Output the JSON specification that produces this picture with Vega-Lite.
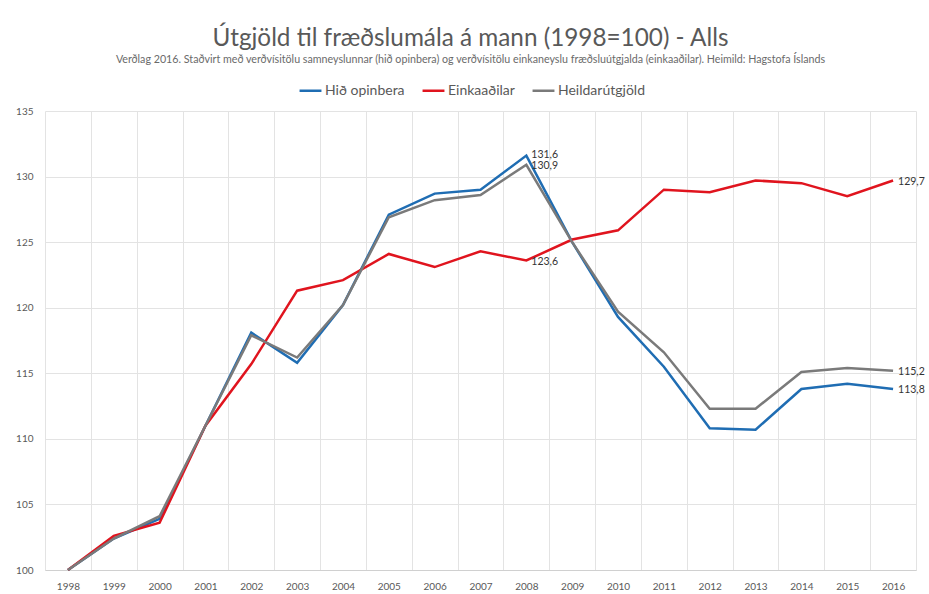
{
  "$schema": "https://vega.github.io/schema/vega-lite/v6.json",
  "width": 871,
  "height": 459,
  "autosize": {"type": "none"},
  "padding": {"left": 45, "top": 111, "right": 13, "bottom": 24},
  "background": "white",
  "config": {
    "font": "Lato",
    "view": {"stroke": null},
    "locale": {"number": {"decimal": ",", "thousands": ".", "grouping": [3], "currency": ["", " kr."]}}
  },
  "title": {
    "text": "Útgjöld til fræðslumála á mann (1998=100) - Alls",
    "subtitle": "Verðlag 2016. Staðvirt með verðvísitölu samneyslunnar (hið opinbera) og verðvísitölu einkaneyslu fræðsluútgjalda (einkaaðilar). Heimild: Hagstofa Íslands",
    "anchor": "middle",
    "dx": -10,
    "fontSize": 24.3,
    "fontWeight": "normal",
    "color": "#595959",
    "subtitleFontSize": 10.7,
    "subtitleColor": "#6a6a6a",
    "subtitlePadding": 4,
    "offset": 13
  },
  "data": {
    "values": [
      {"year": "1998", "series": "Hið opinbera", "value": 100.0},
      {"year": "1999", "series": "Hið opinbera", "value": 102.4},
      {"year": "2000", "series": "Hið opinbera", "value": 103.9},
      {"year": "2001", "series": "Hið opinbera", "value": 111.0},
      {"year": "2002", "series": "Hið opinbera", "value": 118.1},
      {"year": "2003", "series": "Hið opinbera", "value": 115.8},
      {"year": "2004", "series": "Hið opinbera", "value": 120.2},
      {"year": "2005", "series": "Hið opinbera", "value": 127.1},
      {"year": "2006", "series": "Hið opinbera", "value": 128.7},
      {"year": "2007", "series": "Hið opinbera", "value": 129.0},
      {"year": "2008", "series": "Hið opinbera", "value": 131.6},
      {"year": "2009", "series": "Hið opinbera", "value": 125.0},
      {"year": "2010", "series": "Hið opinbera", "value": 119.3},
      {"year": "2011", "series": "Hið opinbera", "value": 115.5},
      {"year": "2012", "series": "Hið opinbera", "value": 110.8},
      {"year": "2013", "series": "Hið opinbera", "value": 110.7},
      {"year": "2014", "series": "Hið opinbera", "value": 113.8},
      {"year": "2015", "series": "Hið opinbera", "value": 114.2},
      {"year": "2016", "series": "Hið opinbera", "value": 113.8},
      {"year": "1998", "series": "Einkaaðilar", "value": 100.0},
      {"year": "1999", "series": "Einkaaðilar", "value": 102.6},
      {"year": "2000", "series": "Einkaaðilar", "value": 103.6},
      {"year": "2001", "series": "Einkaaðilar", "value": 111.0},
      {"year": "2002", "series": "Einkaaðilar", "value": 115.7},
      {"year": "2003", "series": "Einkaaðilar", "value": 121.3},
      {"year": "2004", "series": "Einkaaðilar", "value": 122.1},
      {"year": "2005", "series": "Einkaaðilar", "value": 124.1},
      {"year": "2006", "series": "Einkaaðilar", "value": 123.1},
      {"year": "2007", "series": "Einkaaðilar", "value": 124.3},
      {"year": "2008", "series": "Einkaaðilar", "value": 123.6},
      {"year": "2009", "series": "Einkaaðilar", "value": 125.2},
      {"year": "2010", "series": "Einkaaðilar", "value": 125.9},
      {"year": "2011", "series": "Einkaaðilar", "value": 129.0},
      {"year": "2012", "series": "Einkaaðilar", "value": 128.8},
      {"year": "2013", "series": "Einkaaðilar", "value": 129.7},
      {"year": "2014", "series": "Einkaaðilar", "value": 129.5},
      {"year": "2015", "series": "Einkaaðilar", "value": 128.5},
      {"year": "2016", "series": "Einkaaðilar", "value": 129.7},
      {"year": "1998", "series": "Heildarútgjöld", "value": 100.0},
      {"year": "1999", "series": "Heildarútgjöld", "value": 102.4},
      {"year": "2000", "series": "Heildarútgjöld", "value": 104.1},
      {"year": "2001", "series": "Heildarútgjöld", "value": 111.0},
      {"year": "2002", "series": "Heildarútgjöld", "value": 117.9},
      {"year": "2003", "series": "Heildarútgjöld", "value": 116.2},
      {"year": "2004", "series": "Heildarútgjöld", "value": 120.2},
      {"year": "2005", "series": "Heildarútgjöld", "value": 126.9},
      {"year": "2006", "series": "Heildarútgjöld", "value": 128.2},
      {"year": "2007", "series": "Heildarútgjöld", "value": 128.6},
      {"year": "2008", "series": "Heildarútgjöld", "value": 130.9},
      {"year": "2009", "series": "Heildarútgjöld", "value": 125.0},
      {"year": "2010", "series": "Heildarútgjöld", "value": 119.7},
      {"year": "2011", "series": "Heildarútgjöld", "value": 116.6},
      {"year": "2012", "series": "Heildarútgjöld", "value": 112.3},
      {"year": "2013", "series": "Heildarútgjöld", "value": 112.3},
      {"year": "2014", "series": "Heildarútgjöld", "value": 115.1},
      {"year": "2015", "series": "Heildarútgjöld", "value": 115.4},
      {"year": "2016", "series": "Heildarútgjöld", "value": 115.2}
    ]
  },
  "encoding": {
    "x": {
      "field": "year",
      "type": "ordinal",
      "bandPosition": 0.5,
      "scale": {"type": "band", "paddingInner": 0, "paddingOuter": 0},
      "axis": {
        "title": null,
        "labelAngle": 0,
        "labelFontSize": 10,
        "labelColor": "#595959",
        "labelPadding": 11,
        "ticks": false,
        "tickBand": "extent",
        "grid": true,
        "gridColor": "#e3e3e3",
        "domainColor": "#d0d0d0"
      }
    },
    "y": {
      "field": "value",
      "type": "quantitative",
      "scale": {"domain": [100, 135], "nice": false, "zero": false},
      "axis": {
        "title": null,
        "values": [100, 105, 110, 115, 120, 125, 130, 135],
        "labelFontSize": 10,
        "labelColor": "#595959",
        "labelPadding": 12,
        "ticks": false,
        "domain": false,
        "grid": true,
        "gridColor": "#e3e3e3"
      }
    },
    "color": {
      "field": "series",
      "type": "nominal",
      "sort": ["Hið opinbera", "Einkaaðilar", "Heildarútgjöld"],
      "scale": {
        "domain": ["Hið opinbera", "Einkaaðilar", "Heildarútgjöld"],
        "range": ["#1f6db3", "#e0141e", "#7a7a7a"]
      },
      "legend": {
        "title": null,
        "orient": "none",
        "direction": "horizontal",
        "legendX": 253,
        "legendY": -33,
        "symbolType": "stroke",
        "symbolSize": 480,
        "symbolStrokeWidth": 2.5,
        "labelFontSize": 14,
        "labelColor": "#595959",
        "columnPadding": 12,
        "labelOffset": 2
      }
    }
  },
  "layer": [
    {
      "mark": {"type": "line", "strokeWidth": 2.5}
    },
    {
      "transform": [{"filter": "(datum.year == '2008' || datum.year == '2016') && !(datum.year == '2008' && datum.series == 'Hið opinbera')"}],
      "mark": {"type": "text", "align": "left", "baseline": "middle", "dx": 5, "dy": 1, "fontSize": 10.5},
      "encoding": {
        "text": {"field": "value", "type": "quantitative", "format": ".1f"},
        "color": {"value": "#333333"}
      }
    },
    {
      "transform": [{"filter": "datum.year == '2008' && datum.series == 'Hið opinbera'"}],
      "mark": {"type": "text", "align": "left", "baseline": "middle", "dx": 5, "dy": -1, "fontSize": 10.5},
      "encoding": {
        "text": {"field": "value", "type": "quantitative", "format": ".1f"},
        "color": {"value": "#333333"}
      }
    }
  ]
}
